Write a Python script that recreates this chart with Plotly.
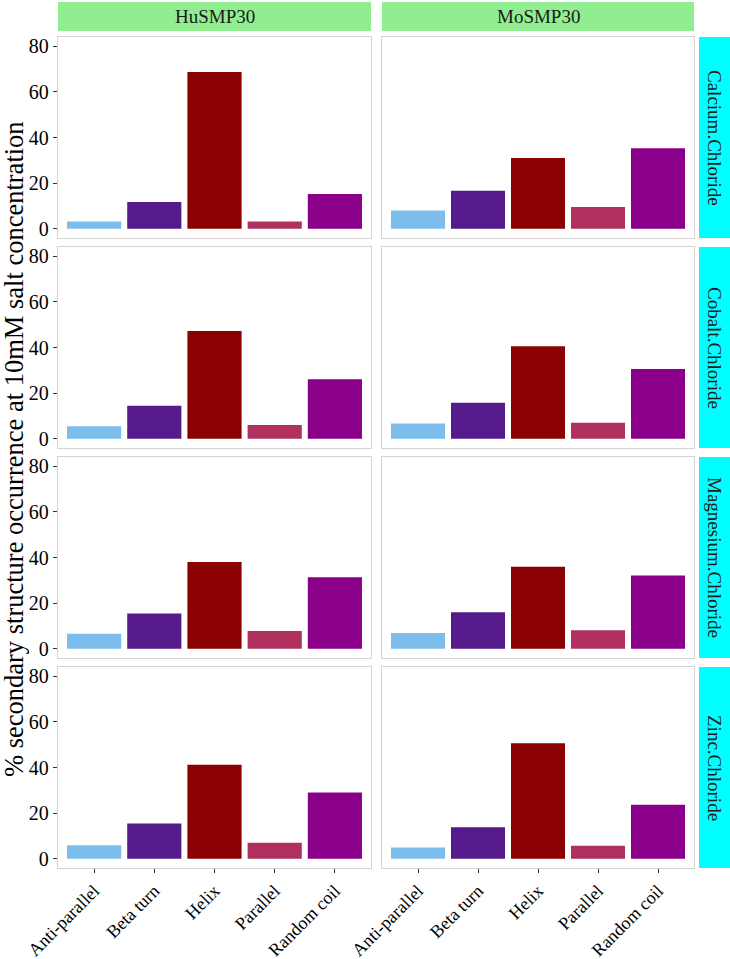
import plotly.graph_objects as go

categories = ["Anti-parallel", "Beta turn", "Helix", "Parallel", "Random coil"]
proteins = ["HuSMP30", "MoSMP30"]
salts = ["Calcium.Chloride", "Cobalt.Chloride", "Magnesium.Chloride", "Zinc.Chloride"]
y_ticks = [0, 20, 40, 60, 80]

hu_calcium = [3.2, 11.8, 68.7, 3.2, 15.3]
mo_calcium = [8.0, 16.7, 31.0, 9.6, 35.3]
hu_cobalt = [5.5, 14.5, 47.2, 6.1, 26.1]
mo_cobalt = [6.7, 15.8, 40.5, 7.1, 30.6]
hu_magnesium = [6.6, 15.5, 38.0, 7.8, 31.3]
mo_magnesium = [7.0, 16.0, 35.9, 8.1, 32.1]
hu_zinc = [6.0, 15.5, 41.2, 7.0, 29.1]
mo_zinc = [5.0, 13.8, 50.6, 5.7, 23.7]

bar_colors = ["#7dbdec", "#551a8b", "#8b0000", "#b0305f", "#8b008b"]

values = [
    [hu_calcium, mo_calcium],
    [hu_cobalt, mo_cobalt],
    [hu_magnesium, mo_magnesium],
    [hu_zinc, mo_zinc],
]

W, H = 730, 959
col_px = [(58, 371), (382, 694)]
row_px = [(37, 238), (247, 448), (457, 658), (667, 868)]
FONT = "Liberation Serif"

fig = go.Figure()
layout = dict(
    width=W, height=H, margin=dict(l=0, r=0, t=0, b=0, autoexpand=False),
    paper_bgcolor="white", plot_bgcolor="white", showlegend=False,
    font=dict(family=FONT, color="black"), bargap=0.1,
)
shapes = []
annotations = []

idx = 0
for r, salt in enumerate(salts):
    for c, prot in enumerate(proteins):
        idx += 1
        xa = "x" if idx == 1 else f"x{idx}"
        ya = "y" if idx == 1 else f"y{idx}"
        fig.add_trace(go.Bar(
            x=categories, y=values[r][c], xaxis=xa, yaxis=ya,
            width=0.9, marker=dict(color=bar_colors, line=dict(width=0)),
            hoverinfo="x+y",
        ))
        x0, x1 = col_px[c]
        y0, y1 = row_px[r]
        xdom = [x0 / W, x1 / W]
        ydom = [1 - y1 / H, 1 - y0 / H]
        layout["xaxis" if idx == 1 else f"xaxis{idx}"] = dict(
            domain=xdom, anchor=ya, type="category", automargin=False,
            categoryorder="array", categoryarray=categories,
            range=[-0.6, 4.6], showgrid=False, zeroline=False,
            showline=True, mirror=True, linecolor="#d4d4d4", linewidth=1.3,
            ticks="outside" if r == 3 else "", ticklen=4, tickwidth=1.3, tickcolor="#333333",
            showticklabels=(r == 3), tickangle=-45,
            tickfont=dict(family=FONT, size=18, color="black"),
        )
        layout["yaxis" if idx == 1 else f"yaxis{idx}"] = dict(
            domain=ydom, anchor=xa, range=[-4, 84], automargin=False,
            tickvals=y_ticks, showgrid=False, zeroline=False,
            showline=True, mirror=True, linecolor="#d4d4d4", linewidth=1.3,
            ticks="outside" if c == 0 else "", ticklen=4, tickwidth=1.3, tickcolor="#333333",
            showticklabels=(c == 0),
            tickfont=dict(family=FONT, size=20, color="black"),
        )

# top strips
for c, prot in enumerate(proteins):
    x0, x1 = col_px[c]
    shapes.append(dict(type="rect", xref="paper", yref="paper",
                       x0=x0 / W, x1=x1 / W, y0=1 - 31 / H, y1=1 - 2 / H,
                       fillcolor="#90ee90", line=dict(width=0), layer="below"))
    annotations.append(dict(text=prot, xref="paper", yref="paper",
                            x=(x0 + x1) / 2 / W, y=1 - 16.5 / H, showarrow=False,
                            font=dict(family=FONT, size=19, color="#1a1a1a"),
                            xanchor="center", yanchor="middle"))

# right strips
for r, salt in enumerate(salts):
    y0, y1 = row_px[r]
    shapes.append(dict(type="rect", xref="paper", yref="paper",
                       x0=699 / W, x1=1.0, y0=1 - y1 / H, y1=1 - y0 / H,
                       fillcolor="#00ffff", line=dict(width=0), layer="below"))
    annotations.append(dict(text=salt, xref="paper", yref="paper",
                            x=714.5 / W, y=1 - (y0 + y1) / 2 / H, showarrow=False,
                            textangle=90,
                            font=dict(family=FONT, size=19, color="#1a1a1a"),
                            xanchor="center", yanchor="middle"))

# y-axis title
annotations.append(dict(text="% secondary structure occurrence at 10mM salt concentration",
                        xref="paper", yref="paper", x=14 / W, y=1 - 449 / H,
                        showarrow=False, textangle=-90,
                        font=dict(family=FONT, size=26.5, color="black"),
                        xanchor="center", yanchor="middle"))

layout["shapes"] = shapes
layout["annotations"] = annotations
fig.update_layout(**layout)
fig.write_html("out.html", config={"displayModeBar": False},
               post_script="document.body.style.margin='0';document.body.style.overflow='hidden';")
